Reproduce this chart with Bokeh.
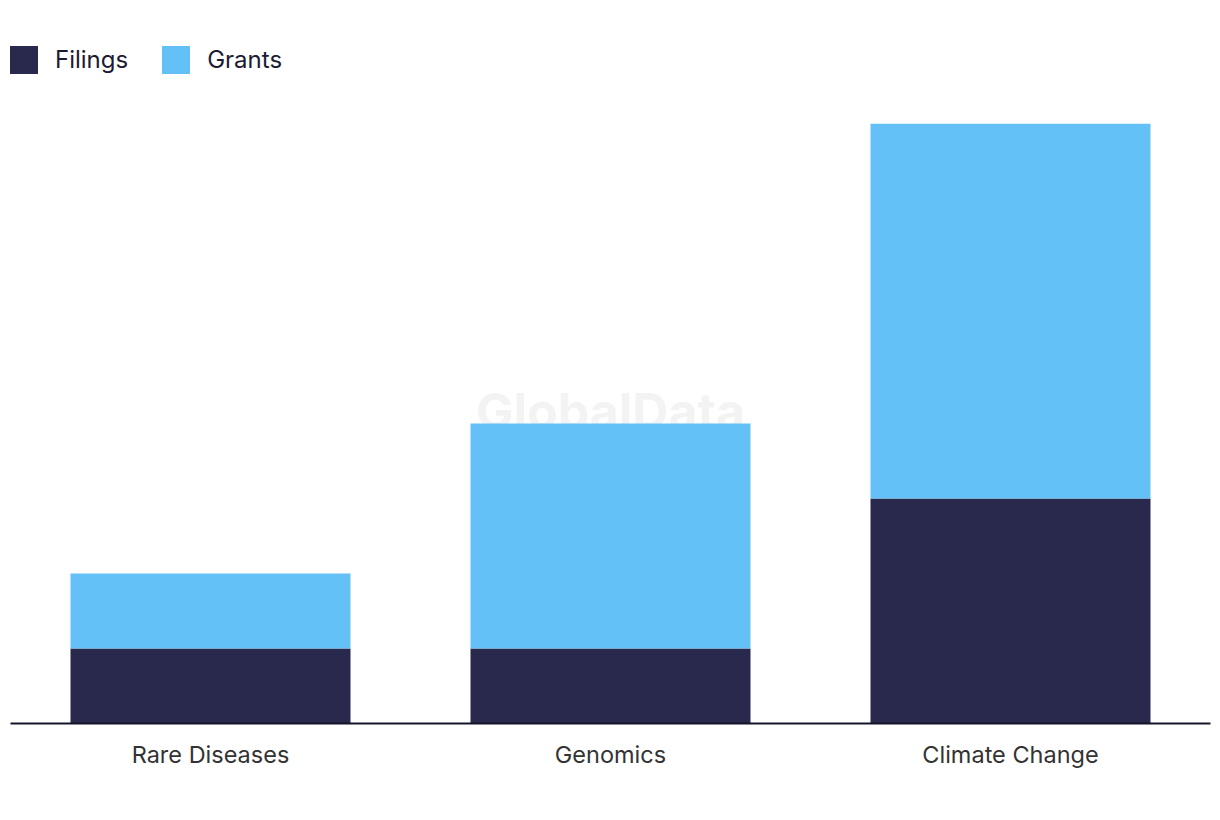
from bokeh.plotting import figure
from bokeh.models import ColumnDataSource, Range1d, Legend, Label
from bokeh.embed import file_html
from bokeh.resources import INLINE

categories = ["Rare Diseases", "Genomics", "Climate Change"]
filings = [1, 1, 3]
grants = [1, 3, 5]
series = ["Filings", "Grants"]
colors = ["#28294C", "#63C1F8"]

FONT = "Inter"

src = ColumnDataSource(dict(cat=categories, Filings=filings, Grants=grants))

p = figure(x_range=categories, y_range=Range1d(0, 9.03),
           width=1212, height=808, output_backend="svg", toolbar_location=None,
           min_border_left=10, min_border_right=2, min_border_top=46, min_border_bottom=85)
p.outline_line_color = None
p.background_fill_color = "white"
p.border_fill_color = "white"
p.xgrid.visible = False
p.ygrid.visible = False
p.yaxis.visible = False
p.x_range.range_padding = 0

wm = Label(x=1.5, y=4.17, text="GlobalData", text_align="center", text_baseline="middle",
           text_font=FONT, text_font_style="bold", text_font_size="50px",
           text_color="#f3f3f3", level="underlay")
p.add_layout(wm)

rs = p.vbar_stack(series, x="cat", width=0.7, source=src, color=colors, line_color=None)

p.xaxis.axis_line_color = "#14142B"
p.xaxis.axis_line_width = 2
p.xaxis.major_tick_line_color = None
p.xaxis.minor_tick_line_color = None
p.xaxis.major_label_text_font = FONT
p.xaxis.major_label_text_font_size = "23.5px"
p.xaxis.major_label_text_color = "#333333"
p.xaxis.major_label_standoff = 10

legend = Legend(items=[(s, [r]) for s, r in zip(series, rs)], location="top_left",
                orientation="horizontal", glyph_width=35, glyph_height=35,
                label_text_font=FONT, label_text_font_size="24px", label_text_color="#1B1B33",
                label_standoff=14, spacing=30, padding=0, margin=-4,
                border_line_color=None, background_fill_alpha=0)
p.add_layout(legend)

open("out.html", "w").write(file_html(p, INLINE))
